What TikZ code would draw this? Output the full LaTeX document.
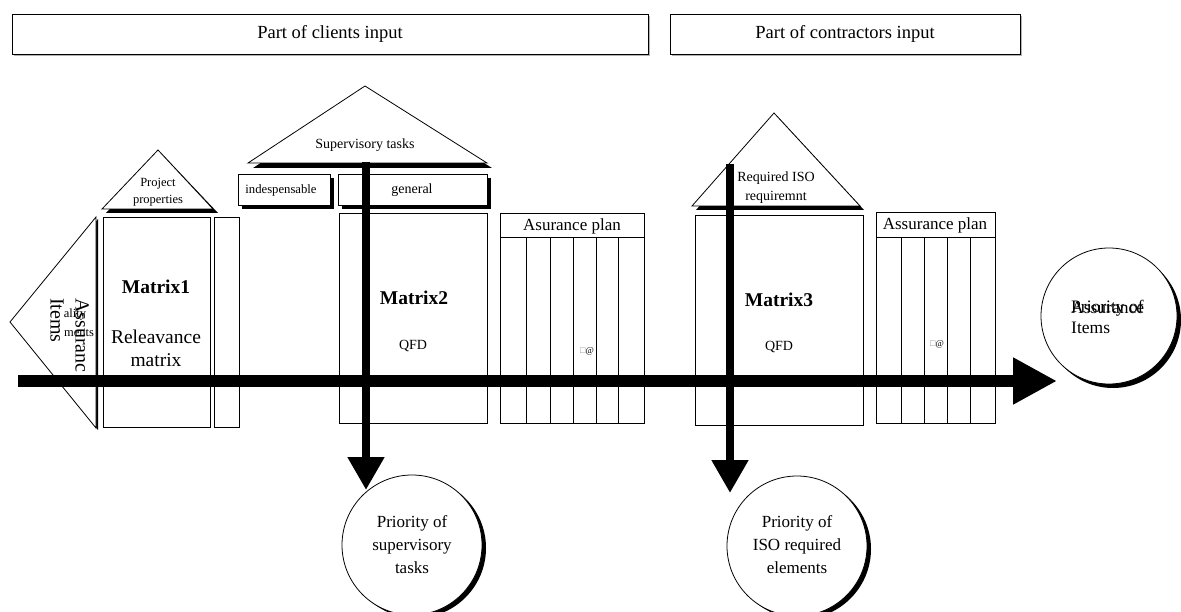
\documentclass[tikz,border=0pt]{standalone}
\usepackage{fontspec}
\setmainfont{Liberation Serif}
\usetikzlibrary{arrows.meta}
\newcommand{\fsz}[2]{\fontsize{#1}{#2}\selectfont}
\tikzset{
  outl/.style={draw=black, line width=0.8pt, fill=white},
  shd/.style={fill=black},
  txt/.style={inner sep=0pt, align=center},
  bigarrow/.style={line width=12pt, -{Triangle[length=44pt,width=44pt]}},
  downarrow/.style={line width=8pt, -{Triangle[length=33pt,width=35pt]}},
}
\begin{document}
\begin{tikzpicture}[x=1pt,y=-1pt]
\useasboundingbox (0,0) rectangle (1181,612);
\fill[white] (0,0) rectangle (1181,612);

% top boxes
\fill[gray!60] (14,16) rectangle (650,56);
\node[outl, minimum width=636pt, minimum height=40pt, anchor=north west, inner sep=0pt] (clients) at (12,14) {};
\node[txt, font=\fsz{18.5}{22}] (clientsT) at (330,34) {Part of clients input};
\fill[gray!60] (672,16) rectangle (1022,56);
\node[outl, minimum width=350pt, minimum height=40pt, anchor=north west, inner sep=0pt] (contr) at (670,14) {};
\node[txt, font=\fsz{18.5}{22}] (contrT) at (845,34) {Part of contractors input};

% left triangle (Assurance Items)
\fill[shd] (98,219) -- (12,324) -- (98,430) -- cycle;
\draw[outl] (96,217) -- (10,322) -- (96,428) -- cycle;
\node[txt, rotate=-90, anchor=north west, align=left, font=\fsz{20}{25}] (assT) at (89,298) {Assuranc\\Items};
\node[txt, font=\fsz{12.5}{15}] (ality) at (75,315) {ality};
\node[txt, font=\fsz{12.5}{15}] (ments) at (79,333) {ments};

% Matrix1
\draw[outl] (103,217) rectangle (210,427);
\draw[outl] (214,217) rectangle (239,427);
\node[txt, font=\fsz{19.5}{23}\bfseries] (m1) at (156,287) {Matrix1};
\node[txt, font=\fsz{19.5}{23}] (m1b) at (156,348) {Releavance\\matrix};

% Project properties triangle
\fill[shd] (106,213) -- (162,154) -- (218,213) -- cycle;
\draw[outl] (102,209) -- (158,150) -- (213,209) -- cycle;
\node[txt, font=\fsz{12.5}{17}] (pp) at (158,192) {Project\\properties};

% Supervisory triangle
\fill[shd] (253,168) -- (370,91) -- (492,168) -- cycle;
\draw[outl] (248,163) -- (365,86) -- (487,163) -- cycle;
\node[txt, font=\fsz{14}{17}] (sup) at (365,145) {Supervisory tasks};

% indespensable, general boxes
\fill[shd] (242,178) rectangle (334,209);
\draw[outl] (238,174) rectangle (330,205);
\node[txt, font=\fsz{12.7}{15}] (ind) at (281,190) {indespensable};
\fill[shd] (342,178) rectangle (491,209);
\draw[outl] (338,174) rectangle (487,205);
\node[txt, font=\fsz{14}{17}] (gen) at (412,190) {general};

% Matrix2
\draw[outl] (339,213) rectangle (487,423);
\node[txt, font=\fsz{19.5}{23}\bfseries] (m2) at (414,298) {Matrix2};
\node[txt, font=\fsz{14}{17}] (q2) at (413,346) {QFD};

% Asurance plan 1
\draw[outl] (500,213) rectangle (644,423);
\draw[line width=0.8pt] (500,237) -- (644,237);
\foreach \c in {526,550,573,596,618} \draw[line width=0.8pt] (\c,237) -- (\c,423);
\node[txt, font=\fsz{17}{20}] (ap1) at (572,226) {Asurance plan};
\node[txt, font=\fsz{9}{11}] (at1) at (587,351) {\textcolor{gray}{□}@};

% Required ISO triangle
\fill[shd] (696,210) -- (778,117) -- (864,210) -- cycle;
\draw[outl] (692,206) -- (774,113) -- (860,206) -- cycle;
\node[txt, font=\fsz{14}{19}] (iso) at (776,188) {Required ISO\\requiremnt};

% Matrix3
\draw[outl] (695,215) rectangle (863,425);
\node[txt, font=\fsz{19.5}{23}\bfseries] (m3) at (779,300) {Matrix3};
\node[txt, font=\fsz{14}{17}] (q3) at (779,347) {QFD};

% Assurance plan 2
\draw[outl] (876,212) rectangle (995,423);
\draw[line width=0.8pt] (876,237) -- (995,237);
\foreach \c in {901,924,947,970} \draw[line width=0.8pt] (\c,237) -- (\c,423);
\node[txt, font=\fsz{17}{20}] (ap2) at (935,225) {Assurance plan};
\node[txt, font=\fsz{9}{11}] (at2) at (937,344) {\textcolor{gray}{□}@};

% circles
\fill[shd] (416,548) circle (70);
\node[outl, circle, minimum size=140pt, inner sep=0pt] (c1) at (412,545) {};
\node[txt, font=\fsz{17}{23}] (c1t) at (412,545) {Priority of\\supervisory\\tasks};

\fill[shd] (801,549) circle (70);
\node[outl, circle, minimum size=140pt, inner sep=0pt] (c2) at (797,546) {};
\node[txt, font=\fsz{17}{23}] (c2t) at (797,545) {Priority of\\ISO required\\elements};

\fill[shd] (1113,320) circle (68);
\node[outl, circle, minimum size=136pt, inner sep=0pt] (c3) at (1109,316) {};
\node[txt, anchor=west, font=\fsz{17.5}{21}] (c3a) at (1071,308) {Priority of};
\node[txt, anchor=west, font=\fsz{17.5}{21}] (c3b) at (1071,308) {Assurance};
\node[txt, anchor=west, font=\fsz{17.5}{21}] (c3c) at (1071,328) {Items};

% arrows
\coordinate (hs) at (18,381);
\coordinate (he) at (1057,381);
\draw[bigarrow] (hs) -- (he);
\coordinate (v1s) at (366,162);
\coordinate (v1e) at (366,490);
\draw[downarrow] (v1s) -- (v1e);
\coordinate (v2s) at (730,164);
\coordinate (v2e) at (730,493);
\draw[downarrow] (v2s) -- (v2e);
\end{tikzpicture}
\end{document}
